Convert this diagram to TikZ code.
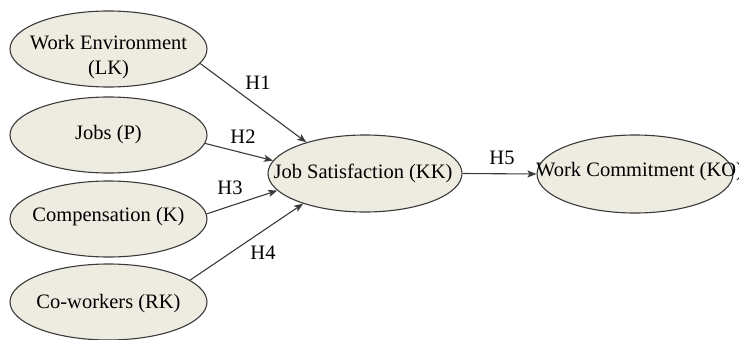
\documentclass[tikz,border=0pt]{standalone}
\usepackage{fontspec}
\setmainfont{Liberation Serif}
\usetikzlibrary{shapes.geometric,arrows.meta}
\definecolor{ellfill}{HTML}{EEECE1}
\definecolor{ellline}{HTML}{3A3A3A}
\begin{document}
\begin{tikzpicture}[x=1pt,y=-1pt,
  var/.style={ellipse, draw=ellline, fill=ellfill, line width=1.1pt, inner sep=0pt,
    minimum width=197pt, minimum height=76pt},
  txt/.style={font=\fontsize{20.5}{25}\selectfont, text=black, align=center, inner sep=0pt},
  lbl/.style={font=\fontsize{20.5}{23}\selectfont, text=black, inner sep=0pt},
  conn/.style={draw=ellline, line width=1.1pt, -{Stealth[length=9pt,width=7pt,inset=2pt]}}]
\useasboundingbox (0,0) rectangle (739,340);
\node[var] (we) at (108.5,49) {};
\node[var] (jb) at (108.5,135) {};
\node[var] (cp) at (108.5,219) {};
\node[var] (cw) at (108.5,302) {};
\node[var, minimum width=194pt, minimum height=77pt] (js) at (365,173.5) {};
\node[var, minimum width=196pt, minimum height=78pt] (wc) at (635,174) {};
\node[txt] (tw) at (108.5,57) {Work Environment\\(LK)};
\node[txt] (tj) at (108.5,135) {Jobs (P)};
\node[txt] (tc) at (108.5,217) {Compensation (K)};
\node[txt] (tr) at (108.5,304) {Co-workers (RK)};
\node[txt] (ts) at (363,173) {Job Satisfaction (KK)};
\node[txt, anchor=west] (tk) at (536,172) {Work Commitment (KO)};
\draw[conn] (we.-9) -- (js.152);
\draw[conn] (jb.-5) -- (js.172);
\draw[conn] (cp.3) -- (js.191);
\draw[conn] (cw.15) -- (js.206);
\draw[conn] (js.east) -- (wc.west);
\node[lbl] (h1) at (258,83) {H1};
\node[lbl] (h2) at (243,137) {H2};
\node[lbl] (h3) at (230,188) {H3};
\node[lbl] (h4) at (263,253) {H4};
\node[lbl] (h5) at (502,158) {H5};
\end{tikzpicture}
\end{document}
